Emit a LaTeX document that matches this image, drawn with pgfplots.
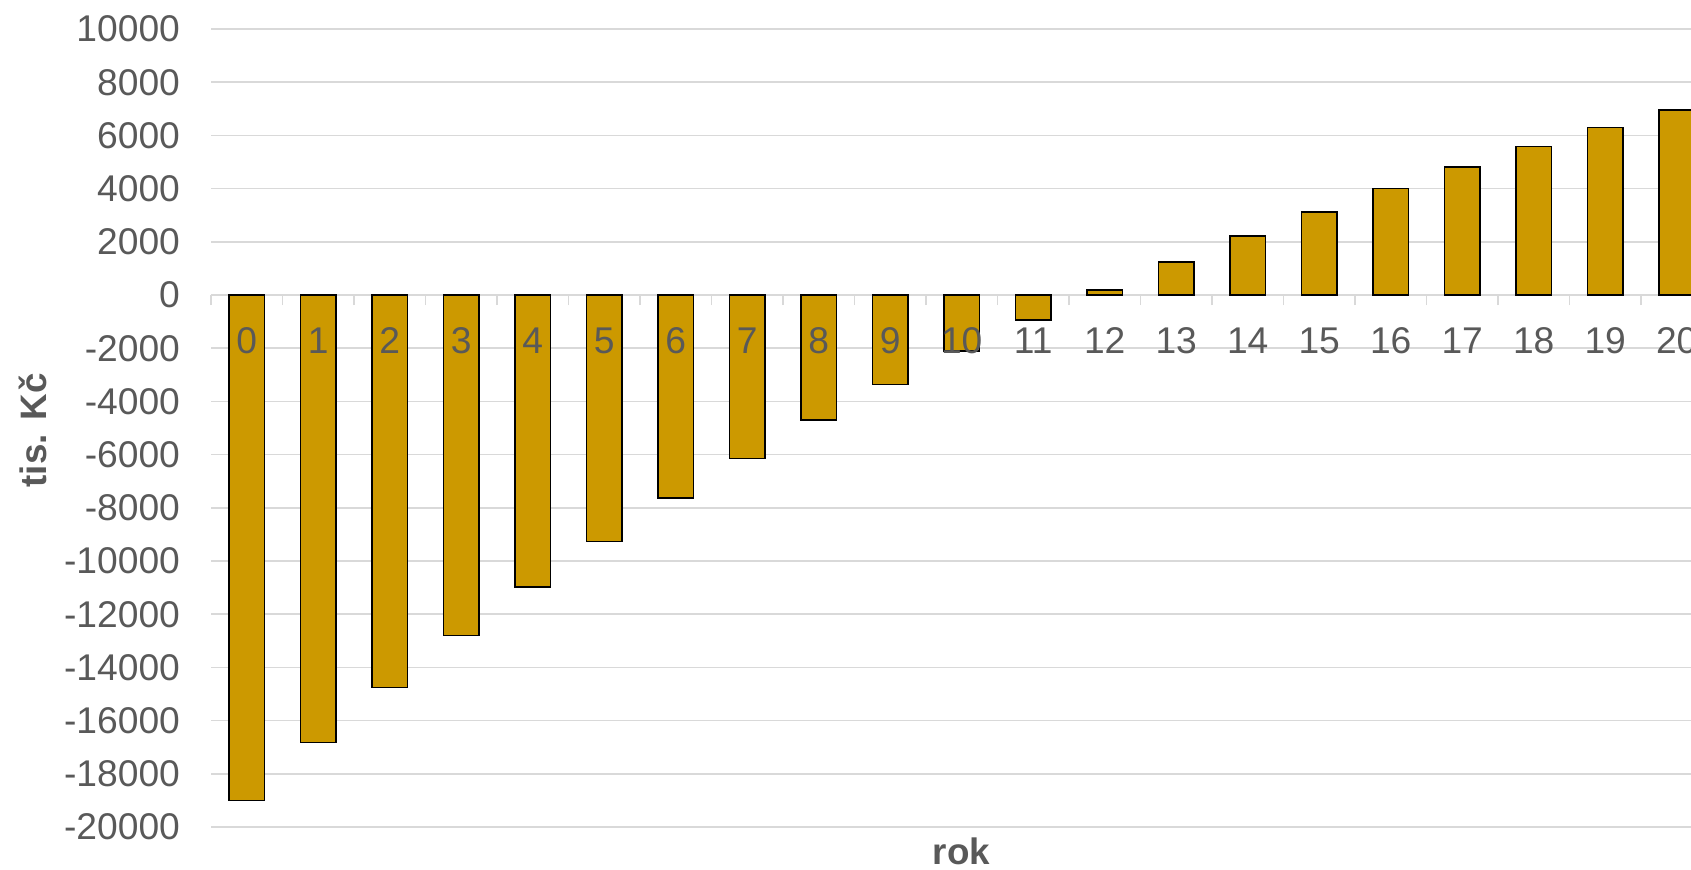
\documentclass[border=0pt]{standalone}
\usepackage{fontspec}
\setmainfont{Liberation Sans}
\usepackage{pgfplots}
\pgfplotsset{compat=1.18}
\definecolor{barc}{HTML}{CC9900}
\definecolor{txt}{HTML}{595959}
\definecolor{gridc}{HTML}{D9D9D9}
\pgfplotsset{
 mybase/.style={
  at={(105.5pt,21pt)}, anchor=south west,
  width=740pt, height=399pt, scale only axis,
  xmin=-0.5, xmax=20.2, ymin=-20000, ymax=10000,
  scaled y ticks=false,
  axis x line=middle, axis y line=left,
  xtick={0,...,20},
  major tick length=0pt,
  tick align=outside,
  /pgf/number format/.cd, 1000 sep={}, assume math mode=true,
  /pgfplots/.cd,
  tick label style={font=\fontsize{18.6}{22}\selectfont, text=txt},
  yticklabel style={xshift=-12pt},
  xticklabel style={yshift=-18.5pt, text height=0.72em, text depth=0pt},
 },
}
\begin{document}
\begin{tikzpicture}
\useasboundingbox (0,0) rectangle (845.5pt,434.5pt);
\clip (0,0) rectangle (845.5pt,434.5pt);
\begin{axis}[
 mybase,
 x axis line style={draw=gridc, line width=0.75pt, -},
 y axis line style={draw=none},
 ytick={-20000,-18000,...,10000},
 xticklabels={},
 minor xtick={-0.5,0.5,...,20.5},
 minor tick length=5pt,
 every minor tick/.append style={draw=gridc, line width=0.75pt},
 ymajorgrids, grid style={draw=gridc, line width=0.75pt},
 ylabel={\textbf{tis. Kč}},
 xlabel={\textbf{rok}},
 label style={font=\fontsize{18.4}{22}\selectfont, text=txt},
 ylabel style={at={(axis description cs:-0.1206,0.497)}, anchor=center, rotate=0},
 xlabel style={at={(axis description cs:0.507,-0.030)}, anchor=center},
]
\addplot[ybar, bar width=0.5, fill=barc, draw=black, line width=0.8pt] coordinates {
(0,-19000) (1,-16830) (2,-14750) (3,-12800) (4,-10980) (5,-9270) (6,-7640)
(7,-6140) (8,-4700) (9,-3370) (10,-2100) (11,-930) (12,190) (13,1230)
(14,2220) (15,3130) (16,4000) (17,4810) (18,5580) (19,6290) (20,6960)
};
\end{axis}
\begin{axis}[
 mybase,
 x axis line style={draw=none},
 y axis line style={draw=none},
 ytick=\empty,
]
\end{axis}
\end{tikzpicture}
\end{document}
